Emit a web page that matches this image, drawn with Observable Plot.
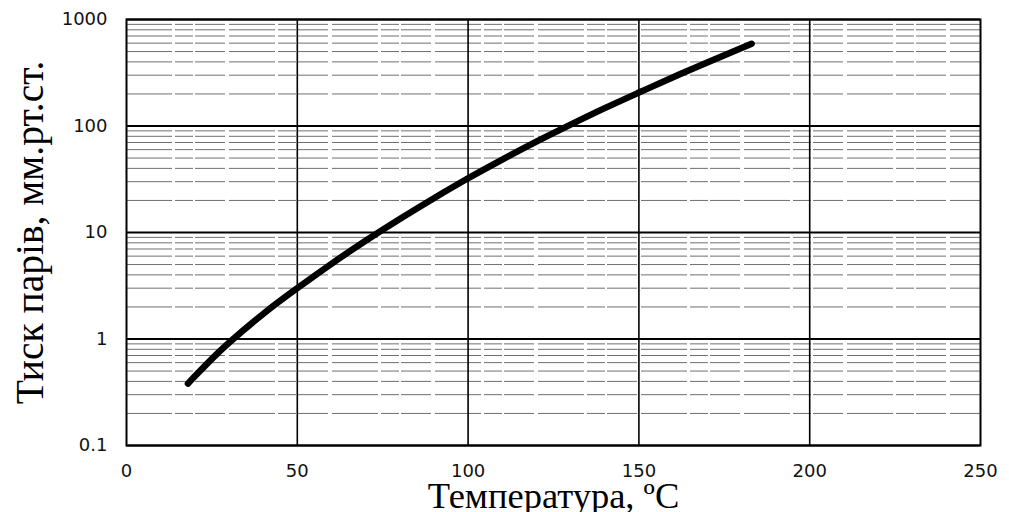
<!DOCTYPE html>
<html><head><meta charset="utf-8">
<script src="https://cdn.jsdelivr.net/npm/d3@7"></script>
<script src="https://cdn.jsdelivr.net/npm/@observablehq/plot@0.6"></script>
<style>
body{margin:0;background:#fff}
#chart svg{display:block}
#chart g[aria-label="x-axis label"] text{font-family:"Liberation Serif","Times New Roman",serif;font-size:36.5px;fill:#000}
#chart g[aria-label="y-axis label"] text{font-family:"Liberation Serif","Times New Roman",serif;font-size:39.5px;fill:#000}
#chart g[aria-label="x-axis tick label"] text, #chart g[aria-label="y-axis tick label"] text{font-family:"DejaVu Sans",Verdana,sans-serif;font-size:18px;fill:#111}
</style>
</head><body><div id="chart"></div>
<script>
const temperature = [18,20,25,30,40,50,60,70,80,90,100,110,120,130,140,150,160,170,183];
const pressure = [0.381,0.447,0.651,0.923,1.72,3.0,5.08,8.37,13.4,21.0,32.3,48.4,71.3,103,147,206,287,395,592];
const xTicks = [0,50,100,150,200,250];
const xGrid = [50,100,150,200];
const yTicks = [0.1,1,10,100,1000];
const yMinor = [0.2,0.3,0.4,0.5,0.6,0.7,0.8,0.9,2,3,4,5,6,7,8,9,20,30,40,50,60,70,80,90,200,300,400,500,600,700,800,900];
const xLabel = "Температура, ºC";
const yLabel = "Тиск парів, мм.рт.ст.";

const rows = temperature.map((t,i)=>({t, p: pressure[i]}));

const chart = Plot.plot({
  width:1009, height:512,
  marginLeft:126, marginRight:29, marginTop:19, marginBottom:67,
  x:{domain:[0,250]},
  y:{type:"log", domain:[0.1,1000]},
  marks:[
    Plot.ruleY(yMinor, {stroke:"#6f6f6f", strokeWidth:1, strokeDasharray:"46 3 18 2 30 4"}),
    Plot.ruleX(xGrid, {stroke:"#000", strokeWidth:1.6}),
    Plot.ruleY(yTicks, {stroke:"#000", strokeWidth:2}),
    Plot.frame({stroke:"#000", strokeWidth:2}),
    Plot.axisX(xTicks, {tickSize:0, tickPadding:19, tickFormat:d=>String(d), label:xLabel, labelAnchor:"center", labelArrow:"none", labelOffset:62}),
    Plot.axisY(yTicks, {tickSize:0, tickPadding:19, tickFormat:d=>String(d), label:yLabel, labelAnchor:"center", labelArrow:"none", labelOffset:112}),
    Plot.line(rows, {x:"t", y:"p", stroke:"#000", strokeWidth:6.5, curve:"natural", strokeLinecap:"round"})
  ]
});
document.getElementById("chart").appendChild(chart);
</script>
</body></html>
